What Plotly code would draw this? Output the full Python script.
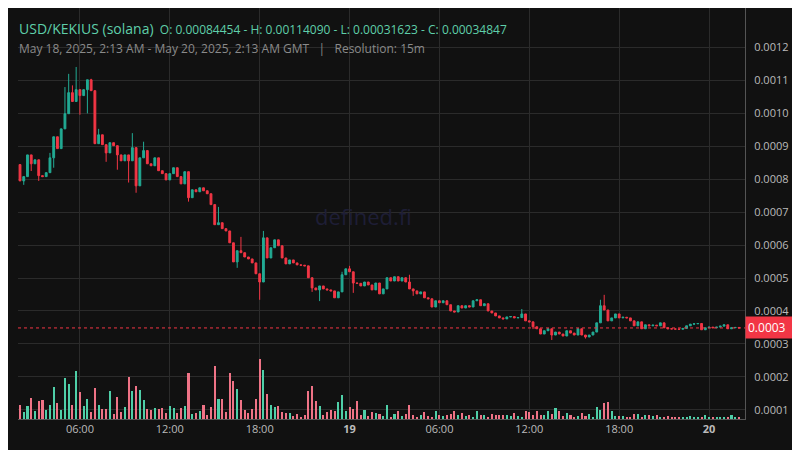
import pandas as pd
import plotly.graph_objects as go

# 15m candles, prices in units of 1e-5 USD
start = '2025-05-18 02:00'
first_open = 84.454
closes = [
    79.5, 80.8, 87.4, 84.7, 85.9, 81.1, 80.8, 82.0, 86.5, 92.9,
    89.3, 95.3, 99.9, 106.3, 103.6, 107.2, 105.4, 107.2, 110.2, 106.9,
    90.8, 93.5, 90.5, 88.0, 91.1, 90.2, 87.4, 85.6, 87.4, 85.6,
    89.6, 78.0, 86.5, 88.7, 84.7, 84.1, 86.5, 82.6, 81.7, 79.8,
    81.7, 83.5, 80.8, 78.6, 82.3, 74.4, 76.8, 76.2, 77.4, 76.5,
    75.6, 72.3, 66.2, 66.8, 65.0, 64.3, 60.7, 54.9, 58.3, 57.7,
    56.4, 55.8, 54.6, 51.3, 48.8, 62.2, 56.1, 59.2, 61.6, 59.8,
    56.1, 54.3, 55.5, 54.6, 54.0, 53.9, 53.7, 50.1, 47.0, 46.4,
    47.6, 46.7, 46.4, 46.1, 44.0, 45.8, 51.0, 52.8, 51.9, 48.5,
    48.4, 47.6, 48.8, 47.9, 46.4, 48.5, 45.2, 46.7, 50.1, 49.1,
    50.4, 49.1, 50.1, 48.8, 46.7, 46.1, 45.2, 45.8, 44.0, 43.7,
    41.2, 43.1, 42.5, 43.1, 41.9, 40.0, 39.7, 41.6, 40.9, 41.6,
    41.2, 43.1, 43.4, 41.6, 42.2, 40.0, 39.4, 38.5, 37.9, 37.6,
    38.2, 38.3, 37.9, 38.0, 39.1, 37.0, 36.7, 35.2, 34.6, 33.0,
    34.0, 34.6, 32.7, 33.6, 33.0, 32.4, 34.0, 33.3, 32.7, 34.6,
    32.7, 32.1, 32.7, 33.6, 36.4, 41.6, 40.3, 37.0, 37.9, 39.1,
    37.9, 38.1, 37.9, 37.0, 35.5, 36.7, 34.6, 35.8, 35.5, 35.7,
    35.5, 36.4, 34.9, 34.6, 34.55, 34.5, 34.45, 34.7, 35.5, 36.0,
    36.1, 36.2, 34.3, 34.9, 35.1, 34.9, 35.1, 35.4, 35.8, 34.6,
    34.9, 35.0, 34.847,
]
# wick extremes that stand out from the bodies (1-based candle number)
wick_highs = {9: 88.0, 11: 90.5, 13: 108.0, 14: 112.0, 15: 108.5, 16: 114.09,
              20: 110.5, 22: 95.3, 31: 94.0, 34: 91.4, 54: 71.6, 60: 62.5,
              66: 64.3, 87: 51.9, 89: 53.7, 105: 51.0, 135: 40.6,
              156: 43.4, 157: 44.9}
wick_lows = {2: 78.3, 4: 82.5, 6: 79.5, 10: 83.5, 17: 99.6, 19: 100.0,
             24: 85.3, 27: 82.9, 30: 79.0, 32: 75.9, 46: 73.2, 59: 53.1,
             65: 43.4, 79: 45.8, 81: 43.0, 90: 45.5, 106: 44.6, 138: 34.5,
             143: 31.2, 152: 31.623}
volume = [
    42, 21, 39, 63, 24, 54, 57, 27, 42, 96, 48, 27, 123, 105, 42, 144, 81,
    39, 60, 21, 93, 42, 30, 30, 84, 15, 66, 21, 36, 126, 84, 99, 87, 57,
    30, 27, 33, 30, 33, 18, 39, 33, 18, 33, 39, 138, 15, 18, 24, 42, 12,
    36, 159, 60, 60, 21, 138, 114, 90, 57, 27, 18, 30, 60, 180, 147, 75,
    42, 36, 39, 21, 18, 18, 9, 15, 6, 12, 84, 99, 54, 39, 12, 21, 27, 24,
    51, 72, 24, 36, 30, 54, 12, 27, 9, 21, 18, 15, 9, 42, 6, 15, 24, 9,
    15, 42, 12, 6, 12, 21, 9, 6, 24, 12, 9, 12, 15, 24, 12, 18, 9, 12, 6,
    24, 12, 12, 6, 15, 12, 12, 12, 12, 9, 18, 9, 6, 24, 21, 12, 24, 12,
    12, 24, 15, 33, 24, 9, 18, 12, 6, 9, 18, 9, 15, 6, 36, 27, 48, 51, 24,
    9, 9, 9, 6, 6, 15, 15, 6, 12, 12, 9, 12, 6, 6, 9, 6, 6, 6, 6, 6, 9, 6,
    6, 6, 12, 6, 6, 6, 6, 6, 6, 12, 6, 6,
]
ohlc_title = 'O: 0.00084454 - H: 0.00114090 - L: 0.00031623 - C: 0.00034847'
last_price = 0.00034847

UP, DOWN = '#22ab94', '#f23645'
UP_VOL, DOWN_VOL = '#4fcfa8', '#ef7386'

times = pd.date_range(start, periods=len(closes), freq='15min')
opens = [first_open] + closes[:-1]
highs, lows = [], []
for i, (o, c) in enumerate(zip(opens, closes), start=1):
    highs.append(max(o, c, wick_highs.get(i, 0)))
    lows.append(min(o, c, wick_lows.get(i, 1e9)))
scale = 1e-5
df = pd.DataFrame({'t': times, 'o': [v * scale for v in opens],
                   'h': [v * scale for v in highs], 'l': [v * scale for v in lows],
                   'c': [v * scale for v in closes], 'v': volume})
vol_colors = [UP_VOL if c >= o else DOWN_VOL for o, c in zip(df.o, df.c)]

fig = go.Figure()
fig.add_bar(x=df.t, y=df.v, yaxis='y2', marker_color=vol_colors,
            marker_line_width=0, width=15 * 60 * 1000 * 0.55, hoverinfo='skip')
fig.add_candlestick(x=df.t, open=df.o, high=df.h, low=df.l, close=df.c,
                    increasing=dict(line=dict(color=UP, width=1), fillcolor=UP),
                    decreasing=dict(line=dict(color=DOWN, width=1), fillcolor=DOWN),
                    whiskerwidth=0)

fig.add_shape(type='line', xref='paper', x0=0, x1=1, y0=last_price, y1=last_price,
              line=dict(color=DOWN, width=1, dash='dot'))

tick_times = ['2025-05-18 06:00', '2025-05-18 12:00', '2025-05-18 18:00',
              '2025-05-19 00:00', '2025-05-19 06:00', '2025-05-19 12:00',
              '2025-05-19 18:00', '2025-05-20 00:00']
tick_text = ['06:00', '12:00', '18:00', '<b>19</b>', '06:00', '12:00', '18:00', '<b>20</b>']
price_ticks = [i * 0.0001 for i in range(1, 13)]

fig.update_layout(
    width=800, height=450, showlegend=False,
    paper_bgcolor='#111111', plot_bgcolor='#111111',
    margin=dict(l=10, r=63, t=0, b=39, autoexpand=False),
    font=dict(family='Open Sans', color='#bbbbbb', size=11),
    bargap=0,
    xaxis=dict(range=['2025-05-18 01:52', '2025-05-20 02:24'],
               tickvals=tick_times, ticktext=tick_text,
               gridcolor='#2b2b2b', showline=True, linecolor='#555555',
               rangeslider=dict(visible=False), zeroline=False, ticks='',
               automargin=False),
    yaxis=dict(side='right', range=[0.000072, 0.00132], tickvals=price_ticks,
               tickformat='.4f', gridcolor='#2b2b2b', showline=True,
               linecolor='#555555', zeroline=False, ticklabelstandoff=6,
               automargin=False),
    yaxis2=dict(overlaying='y', range=[0, 1233], visible=False),
    annotations=[
        dict(xref='paper', yref='paper', x=0, y=1 - 20 / 411, xanchor='left',
             yanchor='middle', showarrow=False, xshift=-1,
             text=f"<span style='font-size:14px'>USD/KEKIUS (solana)</span>  {ohlc_title}",
             font=dict(color='#5fcfaa', size=12)),
        dict(xref='paper', yref='paper', x=0, y=1 - 41 / 411, xanchor='left',
             yanchor='middle', showarrow=False, xshift=-1,
             text='May 18, 2025, 2:13 AM - May 20, 2025, 2:13 AM GMT   |   Resolution: 15m',
             font=dict(color='#8a8a8a', size=12)),
        dict(xref='paper', yref='paper', x=0.475, y=0.495, showarrow=False,
             text='defined.fi', font=dict(color='#1e1e36', size=22)),
        dict(xref='paper', yref='y', x=1, y=last_price, xanchor='left',
             showarrow=False, text='0.0003', bgcolor=DOWN, borderpad=2,
             font=dict(color='#ffffff', size=12), width=46, align='left'),
    ],
)

fig.write_html('out.html')
